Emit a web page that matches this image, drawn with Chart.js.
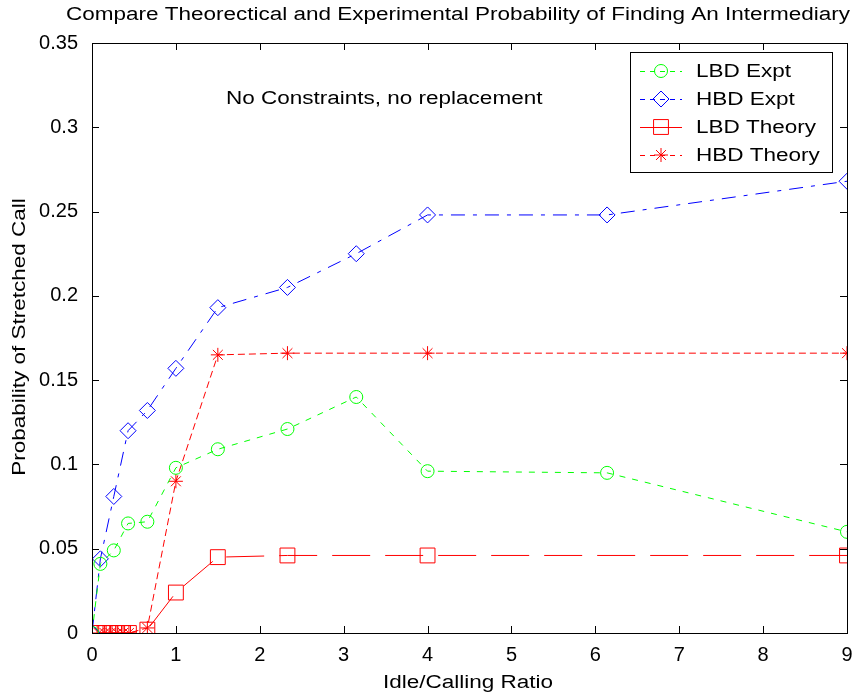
<!DOCTYPE html>
<html>
<head>
<meta charset="utf-8">
<script src="https://cdn.jsdelivr.net/npm/chart.js@4/dist/chart.umd.min.js"></script>
<style>
  body { margin: 0; background: #fff; }
  #wrap { width: 861px; height: 698px; }
</style>
</head>
<body>
<div id="wrap"><canvas id="myChart" width="861" height="698"></canvas></div>
<script>
// x positions (idle/calling ratio)
const exptX = [0, 0.1, 0.26, 0.43, 0.66, 1, 1.5, 2.33, 3.15, 4, 6.14, 9];
const lbdExpt = [0, 0.041, 0.049, 0.065, 0.066, 0.098, 0.109, 0.121, 0.140, 0.096, 0.095, 0.060];
const hbdExpt = [0, 0.044, 0.081, 0.120, 0.132, 0.157, 0.193, 0.205, 0.225, 0.248, 0.248, 0.268];

const theoryX = [0.08, 0.15, 0.22, 0.3, 0.37, 0.44, 0.66, 1, 1.5, 2.33, 4, 9];
const lbdTheory = [0, 0, 0, 0, 0, 0, 0.002, 0.024, 0.045, 0.046, 0.046, 0.046];
const hbdTheory = [0, 0, 0, 0, 0, 0, 0.003, 0.090, 0.165, 0.166, 0.166, 0.166];

const xTicks = [0, 1, 2, 3, 4, 5, 6, 7, 8, 9];
const yTicks = [0, 0.05, 0.1, 0.15, 0.2, 0.25, 0.3, 0.35];

const titleText = "Compare Theorectical and Experimental Probability of Finding An Intermediary";
const noteText = "No Constraints, no replacement";
const xLabel = "Idle/Calling Ratio";
const yLabel = "Probability of Stretched Call";
const FONT = "'Liberation Sans', Arial, sans-serif";
const STRETCH = 1.25; // the old figure font is wide

function pts(xs, ys) {
  return xs.map((x, i) => ({ x: x, y: ys[i] }));
}

// text drawn a bit wider than normal
function wideText(c, txt, x, y, align, rot) {
  c.save();
  c.translate(x, y);
  if (rot) c.rotate(rot);
  c.scale(STRETCH, 1);
  c.fillStyle = '#000';
  c.font = '18px ' + FONT;
  c.textAlign = align;
  c.textBaseline = 'middle';
  c.fillText(txt, 0, 0);
  c.restore();
}

var ctx = document.getElementById("myChart").getContext("2d");

// box, inward ticks, titles, note and legend in matlab style
const matlabBits = {
  id: 'matlabBits',
  afterDraw(chart) {
    const c = chart.ctx;
    const a = chart.chartArea;
    const xs = chart.scales.x, ys = chart.scales.y;
    c.save();
    c.strokeStyle = '#000';
    c.lineWidth = 1;
    c.setLineDash([]);
    c.strokeRect(Math.round(a.left) + 0.5, Math.round(a.top) + 0.5,
                 Math.round(a.right - a.left), Math.round(a.bottom - a.top));
    c.beginPath();
    xTicks.forEach(v => {
      const px = Math.round(xs.getPixelForValue(v)) + 0.5;
      c.moveTo(px, a.bottom); c.lineTo(px, a.bottom - 7);
      c.moveTo(px, a.top); c.lineTo(px, a.top + 7);
    });
    yTicks.forEach(v => {
      const py = Math.round(ys.getPixelForValue(v)) + 0.5;
      c.moveTo(a.left, py); c.lineTo(a.left + 7, py);
      c.moveTo(a.right, py); c.lineTo(a.right - 7, py);
    });
    c.stroke();

    wideText(c, titleText, 458, 15, 'center');
    wideText(c, xLabel, 468, 683, 'center');
    wideText(c, yLabel, 20, 337, 'center', -Math.PI / 2);
    wideText(c, noteText, 226, 99, 'left');

    // legend
    const lx = 630, ly = 52, lw = 202, lh = 120;
    c.fillStyle = '#fff';
    c.fillRect(lx, ly, lw, lh);
    c.strokeStyle = '#000';
    c.strokeRect(lx + 0.5, ly + 0.5, lw, lh);
    chart.data.datasets.forEach((ds, i) => {
      const cy = ly + 19 + i * 28;
      c.strokeStyle = ds.borderColor;
      c.lineWidth = 1;
      c.setLineDash(ds.legendDash);
      c.beginPath();
      c.moveTo(lx + 10, cy + 0.5); c.lineTo(lx + 52, cy + 0.5);
      c.stroke();
      c.setLineDash([]);
      c.strokeStyle = ds.pointBorderColor;
      c.fillStyle = ds.pointBackgroundColor;
      Chart.helpers.drawPoint(c, {
        pointStyle: ds.pointStyle,
        radius: ds.pointRadius,
        borderWidth: 1
      }, lx + 31, cy);
      wideText(c, ds.label, lx + 66, cy + 1, 'left');
    });
    c.restore();
  }
};

var config = {
  type: 'scatter',
  data: {
    datasets: [{
      label: "LBD Expt",
      data: pts(exptX, lbdExpt),
      showLine: true,
      borderColor: '#00ff00',
      backgroundColor: 'rgba(0,0,0,0)',
      borderWidth: 1,
      borderDash: [6, 7],
      legendDash: [5, 5],
      pointStyle: 'circle',
      pointRadius: 6.5,
      pointBorderColor: '#00ff00',
      pointBackgroundColor: 'rgba(0,0,0,0)'
    }, {
      label: "HBD Expt",
      data: pts(exptX, hbdExpt),
      showLine: true,
      borderColor: '#0000ff',
      backgroundColor: 'rgba(0,0,0,0)',
      borderWidth: 1,
      borderDash: [14, 8, 4, 8],
      legendDash: [5, 5],
      pointStyle: 'rectRot',
      pointRadius: 8,
      pointBorderColor: '#0000ff',
      pointBackgroundColor: 'rgba(0,0,0,0)'
    }, {
      label: "LBD Theory",
      data: pts(theoryX, lbdTheory),
      showLine: true,
      borderColor: '#ff0000',
      backgroundColor: 'rgba(0,0,0,0)',
      borderWidth: 1,
      borderDash: [38, 15],
      legendDash: [],
      pointStyle: 'rect',
      pointRadius: 10.5,
      pointBorderColor: '#ff0000',
      pointBackgroundColor: 'rgba(0,0,0,0)'
    }, {
      label: "HBD Theory",
      data: pts(theoryX, hbdTheory),
      showLine: true,
      borderColor: '#ff0000',
      backgroundColor: 'rgba(0,0,0,0)',
      borderWidth: 1,
      borderDash: [7, 4],
      legendDash: [5, 5],
      pointStyle: 'star',
      pointRadius: 7,
      pointBorderColor: '#ff0000',
      pointBackgroundColor: '#ff0000'
    }]
  },
  options: {
    responsive: false,
    animation: false,
    events: [],
    layout: { padding: { top: 43, right: 14, left: 0, bottom: 0 } },
    plugins: {
      legend: { display: false },
      tooltip: { enabled: false }
    },
    scales: {
      x: {
        type: 'linear',
        min: 0, max: 9,
        grid: { display: false },
        border: { display: false },
        afterBuildTicks: s => { s.ticks = xTicks.map(v => ({ value: v })); },
        afterFit: s => { s.height = 65; },
        ticks: {
          color: '#000',
          font: { family: FONT, size: 20 },
          padding: 2,
          maxRotation: 0,
          callback: v => String(v)
        }
      },
      y: {
        min: 0, max: 0.35,
        grid: { display: false },
        border: { display: false },
        afterBuildTicks: s => { s.ticks = yTicks.map(v => ({ value: v })); },
        afterFit: s => { s.width = 92; },
        ticks: {
          color: '#000',
          font: { family: FONT, size: 20 },
          padding: 6,
          callback: v => String(Math.round(v * 100) / 100)
        }
      }
    }
  },
  plugins: [matlabBits]
};

var myChart = new Chart(ctx, config);
</script>
</body>
</html>
